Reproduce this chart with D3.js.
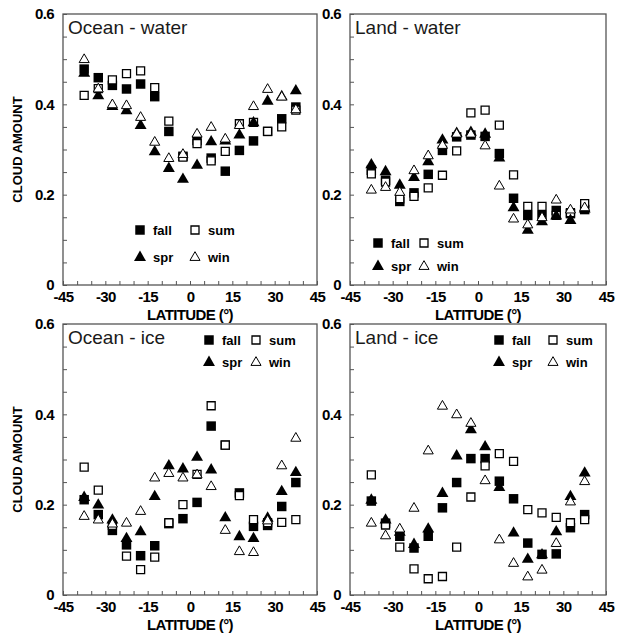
<!DOCTYPE html>
<html>
<head>
<meta charset="utf-8">
<script src="https://cdn.jsdelivr.net/npm/d3@7"></script>
<style>
  body { margin: 0; background: #fff; }
  text { font-family: "Liberation Sans", Arial, sans-serif; }
</style>
</head>
<body>
<svg id="chart" width="617" height="639"></svg>
<script>
// latitude bins (band centres)
var lats = [-37.5, -32.5, -27.5, -22.5, -17.5, -12.5, -7.5, -2.5, 2.5, 7.5, 12.5, 17.5, 22.5, 27.5, 32.5, 37.5];
var seasons = ['fall', 'sum', 'spr', 'win'];
var xTicks = [-45, -30, -15, 0, 15, 30, 45];
var yTicks = [0, 0.2, 0.4, 0.6];

// Ocean - water
var oceanWaterFall = [0.478, 0.459, 0.442, 0.434, 0.445, 0.417, 0.340, 0.285, 0.320, 0.281, 0.252, 0.298, 0.319, 0.340, 0.368, 0.394];
var oceanWaterSum  = [0.420, 0.435, 0.454, 0.468, 0.474, 0.437, 0.363, 0.283, 0.313, 0.275, 0.296, 0.357, 0.360, 0.340, 0.350, 0.387];
var oceanWaterSpr  = [0.470, 0.420, 0.396, 0.387, 0.354, 0.296, 0.259, 0.235, 0.266, 0.318, 0.320, 0.333, 0.360, 0.408, 0.418, 0.431];
var oceanWaterWin  = [0.500, 0.435, 0.400, 0.398, 0.372, 0.317, 0.281, 0.290, 0.335, 0.350, 0.324, 0.354, 0.396, 0.434, 0.417, 0.389];

// Land - water
var landWaterFall = [0.254, 0.232, 0.185, 0.204, 0.245, 0.298, 0.328, 0.332, 0.329, 0.291, 0.192, 0.154, 0.154, 0.165, 0.158, 0.167];
var landWaterSum  = [0.246, 0.228, 0.191, 0.196, 0.215, 0.243, 0.297, 0.381, 0.387, 0.354, 0.244, 0.174, 0.174, 0.154, 0.160, 0.180];
var landWaterSpr  = [0.267, 0.252, 0.222, 0.239, 0.274, 0.322, 0.337, 0.339, 0.335, 0.282, 0.172, 0.122, 0.141, 0.154, 0.144, 0.169];
var landWaterWin  = [0.211, 0.217, 0.206, 0.254, 0.287, 0.310, 0.335, 0.335, 0.309, 0.220, 0.147, 0.134, 0.150, 0.189, 0.167, 0.172];

// Ocean - ice
var oceanIceFall = [0.211, 0.178, 0.143, 0.111, 0.087, 0.109, 0.158, 0.169, 0.205, 0.374, 0.332, 0.226, 0.152, 0.154, 0.196, 0.249];
var oceanIceSum  = [0.283, 0.232, 0.154, 0.086, 0.056, 0.084, 0.160, 0.200, 0.267, 0.419, 0.332, 0.220, 0.167, 0.160, 0.161, 0.167];
var oceanIceSpr  = [0.217, 0.200, 0.167, 0.126, 0.141, 0.219, 0.287, 0.280, 0.306, 0.278, 0.172, 0.130, 0.126, 0.171, 0.230, 0.272];
var oceanIceWin  = [0.175, 0.167, 0.158, 0.160, 0.186, 0.260, 0.270, 0.260, 0.267, 0.241, 0.144, 0.097, 0.095, 0.165, 0.287, 0.348];

// Land - ice
var landIceFall = [0.208, 0.159, 0.130, 0.104, 0.130, 0.193, 0.249, 0.302, 0.302, 0.252, 0.213, 0.115, 0.090, 0.091, 0.149, 0.178];
var landIceSum  = [0.266, 0.155, 0.106, 0.058, 0.036, 0.041, 0.106, 0.217, 0.286, 0.313, 0.296, 0.189, 0.182, 0.172, 0.160, 0.167];
var landIceSpr  = [0.211, 0.167, 0.140, 0.113, 0.147, 0.226, 0.309, 0.367, 0.329, 0.239, 0.138, 0.080, 0.090, 0.141, 0.219, 0.271];
var landIceWin  = [0.160, 0.132, 0.147, 0.193, 0.320, 0.419, 0.400, 0.381, 0.254, 0.123, 0.071, 0.041, 0.056, 0.115, 0.207, 0.252];

var panels = [
  { title: 'Ocean - water', x0: 63, x1: 317, y0: 14, y1: 285, yLabel: true,
    series: [oceanWaterFall, oceanWaterSum, oceanWaterSpr, oceanWaterWin],
    legend: { x: 140, y: 230, dx: 55, dy: 27 } },
  { title: 'Land - water', x0: 350, x1: 606, y0: 14, y1: 285, yLabel: false,
    series: [landWaterFall, landWaterSum, landWaterSpr, landWaterWin],
    legend: { x: 378, y: 243, dx: 46, dy: 23 } },
  { title: 'Ocean - ice', x0: 63, x1: 317, y0: 324, y1: 595, yLabel: true,
    series: [oceanIceFall, oceanIceSum, oceanIceSpr, oceanIceWin],
    legend: { x: 209, y: 340, dx: 47, dy: 22 } },
  { title: 'Land - ice', x0: 350, x1: 606, y0: 324, y1: 595, yLabel: false,
    series: [landIceFall, landIceSum, landIceSpr, landIceWin],
    legend: { x: 499, y: 340, dx: 54, dy: 22 } }
];

var svg = d3.select('#chart');

var sq = d3.symbol().type(d3.symbolSquare).size(90);
var sqOpen = d3.symbol().type(d3.symbolSquare).size(64);
var tri = d3.symbol().type(d3.symbolTriangle).size(62);
var triOpen = d3.symbol().type(d3.symbolTriangle).size(44);

function drawMarker(g, s, x, y) {
  if (s === 'fall') {
    g.append('path').attr('d', sq).attr('transform', 'translate(' + x + ',' + y + ')')
      .attr('fill', '#000');
  } else if (s === 'sum') {
    g.append('path').attr('d', sqOpen).attr('transform', 'translate(' + x + ',' + y + ')')
      .attr('fill', '#fff').attr('stroke', '#000').attr('stroke-width', 1.3);
  } else if (s === 'spr') {
    g.append('path').attr('d', tri).attr('transform', 'translate(' + x + ',' + (y + 0.5) + ')')
      .attr('fill', '#000');
  } else {
    g.append('path').attr('d', triOpen).attr('transform', 'translate(' + x + ',' + (y + 0.5) + ')')
      .attr('fill', '#fff').attr('stroke', '#000').attr('stroke-width', 1);
  }
}

panels.forEach(function(p) {
  var x = d3.scaleLinear().domain([-45, 45]).range([p.x0, p.x1]);
  var y = d3.scaleLinear().domain([0, 0.6]).range([p.y1, p.y0]);
  var g = svg.append('g');

  // frame
  g.append('rect').attr('x', p.x0).attr('y', p.y0)
    .attr('width', p.x1 - p.x0).attr('height', p.y1 - p.y0)
    .attr('fill', 'none').attr('stroke', '#555').attr('stroke-width', 1.3);

  // bottom axis, inner ticks every 5 deg
  var xAxis = d3.axisBottom(x).tickValues(d3.range(-45, 46, 5)).tickSizeInner(-4).tickSizeOuter(0)
    .tickFormat(function(d) { return xTicks.indexOf(d) >= 0 ? d : ''; });
  var xa = g.append('g').attr('transform', 'translate(0,' + p.y1 + ')').call(xAxis);
  xa.select('.domain').remove();
  xa.selectAll('line').attr('stroke', '#555');
  xa.selectAll('text').attr('y', 6).attr('dy', '0.71em')
    .attr('font-size', 15).attr('font-weight', 'bold').attr('fill', '#000')
    .attr('letter-spacing', -0.6);

  // left axis, inner ticks every 0.05
  var yAxis = d3.axisLeft(y).tickValues(d3.range(0, 0.601, 0.05)).tickSizeInner(-4).tickSizeOuter(0)
    .tickFormat(function(d) {
      var r = Math.round(d * 100) / 100;
      return yTicks.indexOf(r) >= 0 ? (r === 0 ? '0' : d3.format('.1f')(r)) : '';
    });
  var ya = g.append('g').attr('transform', 'translate(' + p.x0 + ',0)').call(yAxis);
  ya.select('.domain').remove();
  ya.selectAll('line').attr('stroke', '#555');
  ya.selectAll('text').attr('x', -9)
    .attr('font-size', 15).attr('font-weight', 'bold').attr('fill', '#000')
    .attr('letter-spacing', -0.6);

  // axis titles
  g.append('text').attr('x', (p.x0 + p.x1) / 2).attr('y', p.y1 + 35)
    .attr('text-anchor', 'middle').attr('font-size', 15).attr('font-weight', 'bold')
    .attr('letter-spacing', -0.6).text('LATITUDE (°)');
  if (p.yLabel) {
    g.append('text').attr('transform', 'translate(22,' + ((p.y0 + p.y1) / 2) + ') rotate(-90)')
      .attr('text-anchor', 'middle').attr('font-size', 13).attr('font-weight', 'bold')
      .text('CLOUD AMOUNT');
  }

  // panel title
  g.append('text').attr('x', p.x0 + 5).attr('y', p.y0 + 20)
    .attr('font-size', 19).attr('fill', '#1a1a1a').text(p.title);

  // points
  seasons.forEach(function(s, i) {
    p.series[i].forEach(function(v, j) {
      drawMarker(g, s, x(lats[j]), y(v));
    });
  });

  // legend
  seasons.forEach(function(s, i) {
    var lx = p.legend.x + (i % 2) * p.legend.dx;
    var ly = p.legend.y + Math.floor(i / 2) * p.legend.dy;
    drawMarker(g, s, lx, ly);
    g.append('text').attr('x', lx + 13).attr('y', ly + 5)
      .attr('font-size', 13).attr('font-weight', 'bold').text(s);
  });
});
</script>
</body>
</html>
